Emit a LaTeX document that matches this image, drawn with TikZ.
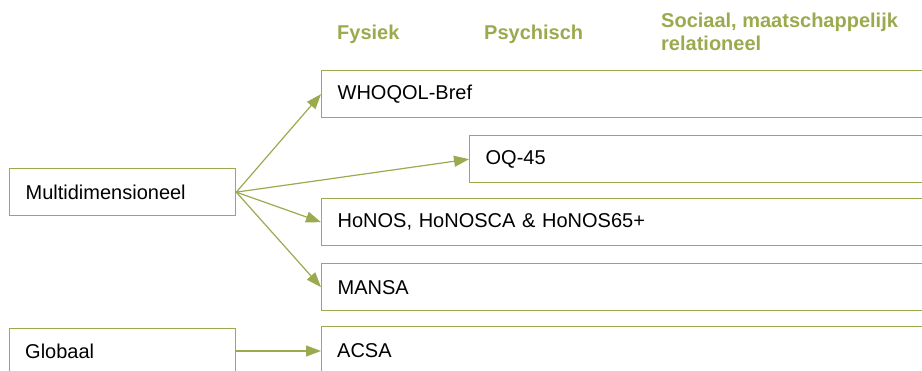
\documentclass[tikz,border=0pt]{standalone}
\usepackage{fontspec}
\setmainfont{Liberation Sans}
\usetikzlibrary{arrows.meta}
\definecolor{olv}{RGB}{154,170,78}
\tikzset{
  lbox/.style={draw=olv, line width=1.3pt, anchor=north west, minimum height=47pt,
    inner xsep=16pt, inner ysep=0pt, text width=#1, align=left,
    font=\fontsize{20}{23}\selectfont, text=black},
  hdr/.style={anchor=base west, inner sep=0pt, align=left, text=olv,
    font=\fontsize{20}{23}\selectfont\bfseries},
  conn/.style={draw=olv, line width=1.2pt, -{Triangle[length=15pt,width=11pt]}}
}
\begin{document}
\begin{tikzpicture}[x=1pt,y=-1pt]
\useasboundingbox (0,0) rectangle (922,370);
\clip (0,0) rectangle (922,370);
\node[hdr] (fys) at (337,39) {Fysiek};
\node[hdr] (psy) at (484,39) {Psychisch};
\node[hdr] (soc) at (661,50) {Sociaal, maatschappelijk\\relationeel};
\node[lbox=194pt] (multi) at (9,168) {Multidimensioneel};
\node[lbox=194pt, minimum height=60pt] (glob) at (9,328) {};
\node[anchor=west, inner sep=0pt, font=\fontsize{20}{23}\selectfont] (globtxt) at (25,351) {Globaal};
\node[lbox=590pt] (who) at (321,70) {WHOQOL-Bref};
\node[lbox=450pt] (oq) at (469,135) {OQ-45};
\node[lbox=590pt] (hon) at (321,198) {HoNOS, HoNOSCA \& HoNOS65+};
\node[lbox=590pt] (man) at (321,263) {MANSA};
\node[lbox=590pt, minimum height=60pt] (acsa) at (321,326) {};
\node[anchor=west, inner sep=0pt, font=\fontsize{20}{23}\selectfont] (acsatxt) at (337,351) {ACSA};
\draw[conn] (multi.east) -- (who.west);
\draw[conn] (multi.east) -- (oq.west);
\draw[conn] (multi.east) -- (hon.west);
\draw[conn] (multi.east) -- (man.west);
\coordinate (gsrc) at (235,351);
\draw[conn] (gsrc) -- (gsrc -| acsa.west);
\end{tikzpicture}
\end{document}
